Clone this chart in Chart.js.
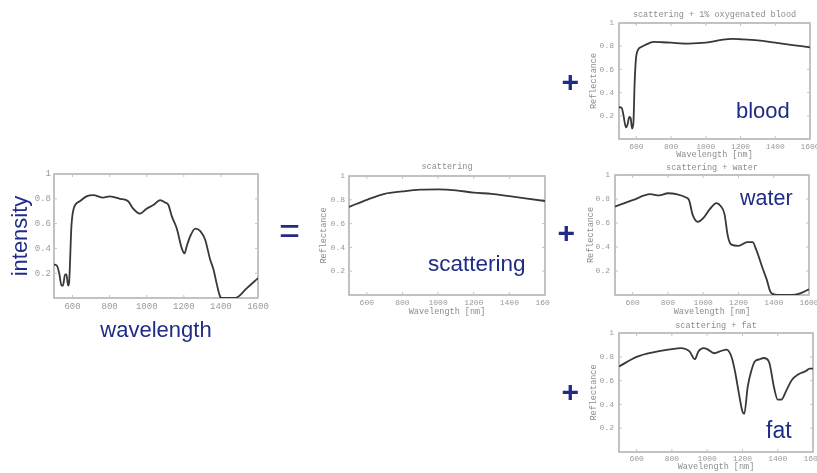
<!DOCTYPE html>
<html>
<head>
<meta charset="utf-8">
<script src="https://cdn.jsdelivr.net/npm/chart.js@4.4.1/dist/chart.umd.min.js"></script>
<style>
body { margin: 0; background: #fff; width: 817px; height: 473px; overflow: hidden; position: relative; font-family: "Liberation Sans", Arial, sans-serif; }
.panel { position: absolute; }
.big { position: absolute; color: #1f2c86; white-space: nowrap; }
</style>
</head>
<body>
<div class="panel" id="p1"><canvas></canvas></div>
<div class="panel" id="p2"><canvas></canvas></div>
<div class="panel" id="p3"><canvas></canvas></div>
<div class="panel" id="p4"><canvas></canvas></div>
<div class="panel" id="p5"><canvas></canvas></div>
<script>
// axis ticks shared by all panels
const xTicks = [600, 800, 1000, 1200, 1400, 1600]
const xTickLabels = ['600', '800', '1000', '1200', '1400', '1600']
const yTicks = [0.2, 0.4, 0.6, 0.8, 1]
const yTickLabels = ['0.2', '0.4', '0.6', '0.8', '1']

// measured spectrum (left)
const intensityNm  = [500, 516, 528, 541, 548, 560, 567, 576, 581, 594, 606, 639, 675, 711, 765, 801, 856, 900, 927, 963, 999, 1036, 1072, 1099, 1117, 1135, 1162, 1189, 1204, 1216, 1238, 1262, 1289, 1315, 1342, 1360, 1378, 1396, 1405, 1477, 1540, 1600]
const intensityVal = [0.27, 0.26, 0.20, 0.10, 0.10, 0.19, 0.19, 0.10, 0.12, 0.58, 0.72, 0.78, 0.82, 0.83, 0.81, 0.82, 0.80, 0.78, 0.72, 0.68, 0.72, 0.75, 0.79, 0.77, 0.75, 0.66, 0.56, 0.40, 0.36, 0.42, 0.51, 0.56, 0.54, 0.47, 0.31, 0.23, 0.11, 0.01, 0, 0, 0.08, 0.16]

// scattering only
const scatterNm  = [500, 600, 700, 800, 900, 1000, 1100, 1200, 1300, 1400, 1500, 1600]
const scatterVal = [0.74, 0.80, 0.85, 0.87, 0.885, 0.888, 0.88, 0.86, 0.85, 0.83, 0.81, 0.79]

// scattering + 1% oxygenated blood
const bloodNm  = [500, 515, 525, 540, 548, 560, 567, 575, 583, 590, 597, 610, 625, 650, 700, 750, 800, 900, 1000, 1100, 1150, 1200, 1300, 1400, 1500, 1600]
const bloodVal = [0.274, 0.27, 0.21, 0.10, 0.12, 0.19, 0.18, 0.09, 0.14, 0.48, 0.68, 0.77, 0.79, 0.81, 0.837, 0.834, 0.83, 0.823, 0.83, 0.857, 0.863, 0.86, 0.85, 0.83, 0.81, 0.79]

// scattering + water
const waterNm  = [500, 600, 700, 750, 800, 850, 900, 920, 940, 970, 1000, 1040, 1075, 1100, 1120, 1140, 1160, 1200, 1250, 1280, 1300, 1340, 1360, 1380, 1400, 1450, 1500, 1550, 1600]
const waterVal = [0.737, 0.79, 0.84, 0.83, 0.848, 0.84, 0.815, 0.79, 0.67, 0.61, 0.64, 0.72, 0.765, 0.74, 0.68, 0.49, 0.42, 0.41, 0.44, 0.44, 0.38, 0.21, 0.13, 0.03, 0.005, 0, 0, 0.014, 0.047]

// scattering + fat
const fatNm  = [500, 600, 700, 800, 850, 900, 930, 950, 980, 1000, 1040, 1080, 1110, 1140, 1160, 1180, 1200, 1210, 1230, 1250, 1270, 1300, 1320, 1350, 1380, 1400, 1420, 1450, 1480, 1520, 1560, 1580, 1600]
const fatVal = [0.718, 0.80, 0.84, 0.865, 0.873, 0.845, 0.78, 0.845, 0.873, 0.865, 0.83, 0.85, 0.86, 0.79, 0.66, 0.49, 0.34, 0.32, 0.55, 0.68, 0.76, 0.78, 0.79, 0.76, 0.535, 0.44, 0.44, 0.52, 0.605, 0.655, 0.68, 0.70, 0.70]

const mono = '"Liberation Mono", "DejaVu Sans Mono", monospace'
const sans = '"Liberation Sans", Arial, sans-serif'
const navy = '#1f2c86'
const gray = '#9a9a9a'

const framePlugin = {
    id: 'frame',
    beforeDatasetsDraw(chart) {
        const { ctx, chartArea: a, scales } = chart
        ctx.save()
        ctx.strokeStyle = '#a8a8a8'
        ctx.lineWidth = 1.4
        ctx.strokeRect(a.left, a.top, a.right - a.left, a.bottom - a.top)
        ctx.lineWidth = 1
        ctx.strokeStyle = '#c4c4c4'
        ctx.beginPath()
        xTicks.forEach(v => {
            const px = scales.x.getPixelForValue(v)
            ctx.moveTo(px, a.bottom); ctx.lineTo(px, a.bottom - 3)
            ctx.moveTo(px, a.top); ctx.lineTo(px, a.top + 3)
        })
        yTicks.forEach(v => {
            const py = scales.y.getPixelForValue(v)
            ctx.moveTo(a.left, py); ctx.lineTo(a.left + 3, py)
            ctx.moveTo(a.right, py); ctx.lineTo(a.right - 3, py)
        })
        ctx.stroke()
        ctx.restore()
    }
}

// box = canvas [left, top, width, height], plot = [left, top, right, bottom]
function makeChart(id, box, plot, nm, val, o) {
    const wrap = document.getElementById(id)
    wrap.style.left = box[0] + 'px'
    wrap.style.top = box[1] + 'px'
    const canvas = wrap.querySelector('canvas')
    canvas.width = box[2]
    canvas.height = box[3]
    const yW = plot[0] - box[0]
    const xH = box[1] + box[3] - plot[3]
    let padTop = plot[1] - box[1]
    let title = { display: false }
    if (o.title) {
        const pt = o.titleY - box[1] - o.tfs / 2
        title = {
            display: true, text: o.title, fullSize: false, color: '#8c8c8c',
            font: { family: mono, size: o.tfs, lineHeight: 1, weight: 'normal' },
            padding: { top: pt, bottom: padTop - o.tfs - pt }
        }
        padTop = 0
    }
    new Chart(canvas, {
        type: 'line',
        data: {
            datasets: [{
                data: nm.map((x, i) => ({ x: x, y: val[i] })),
                borderColor: '#383838',
                borderWidth: 1.8,
                pointRadius: 0,
                cubicInterpolationMode: 'monotone',
                fill: false
            }]
        },
        options: {
            responsive: false,
            animation: false,
            layout: { padding: { left: 0, top: padTop, right: box[0] + box[2] - plot[2], bottom: 0 } },
            plugins: { legend: { display: false }, tooltip: { enabled: false }, title: title },
            scales: {
                x: {
                    type: 'linear', min: 500, max: 1600,
                    afterBuildTicks: s => { s.ticks = xTicks.map(v => ({ value: v })) },
                    afterFit: s => { s.height = xH; s.paddingLeft = 0; s.paddingRight = 0 },
                    grid: { display: false, drawTicks: false },
                    border: { display: false },
                    ticks: {
                        color: gray, font: { family: mono, size: o.fs }, padding: o.xPad,
                        maxRotation: 0, autoSkip: false, callback: (v, i) => xTickLabels[i]
                    },
                    title: {
                        display: true, text: o.xTitle, color: o.axColor,
                        font: { family: o.axFamily, size: o.axSize, lineHeight: 1 },
                        padding: { top: 0, bottom: box[1] + box[3] - o.xTitleY - o.axSize / 2 }
                    }
                },
                y: {
                    type: 'linear', min: 0, max: 1,
                    afterBuildTicks: s => { s.ticks = yTicks.map(v => ({ value: v })) },
                    afterFit: s => { s.width = yW; s.paddingTop = 0; s.paddingBottom = 0 },
                    grid: { display: false, drawTicks: false },
                    border: { display: false },
                    ticks: {
                        color: gray, font: { family: mono, size: o.fs }, padding: o.yPad,
                        autoSkip: false, callback: (v, i) => yTickLabels[i]
                    },
                    title: {
                        display: true, text: o.yTitle, color: o.axColor,
                        font: { family: o.axFamily, size: o.axSize, lineHeight: 1 },
                        padding: { top: o.yTitleX - box[0] - o.axSize / 2, bottom: 0 }
                    }
                }
            }
        },
        plugins: [framePlugin]
    })
}

const small = { fs: 8, tfs: 8.5, xPad: 3, yPad: 5, axColor: '#8c8c8c', axFamily: mono, axSize: 8.5, xTitle: 'Wavelength [nm]', yTitle: 'Reflectance' }

makeChart('p1', [0, 160, 275, 190], [54, 174, 258, 298], intensityNm, intensityVal,
    { fs: 9, xPad: 3, yPad: 3, axColor: navy, axFamily: sans, axSize: 22, xTitle: 'wavelength', xTitleY: 330.5, yTitle: 'intensity', yTitleX: 21 })
makeChart('p2', [300, 155, 250, 165], [349, 176, 545, 295], scatterNm, scatterVal,
    Object.assign({}, small, { yPad: 4, title: 'scattering', titleY: 167, yTitleX: 324, xTitleY: 312 }))
makeChart('p3', [570, 0, 247, 165], [619, 23, 810, 139], bloodNm, bloodVal,
    Object.assign({}, small, { title: 'scattering + 1% oxygenated blood', titleY: 15, yTitleX: 594, xTitleY: 155 }))
makeChart('p4', [570, 158, 247, 162], [615, 175, 809, 295], waterNm, waterVal,
    Object.assign({}, small, { title: 'scattering + water', titleY: 168, yTitleX: 591, xTitleY: 312 }))
makeChart('p5', [570, 318, 247, 155], [619, 333, 813, 452], fatNm, fatVal,
    Object.assign({}, small, { xPad: 2, title: 'scattering + fat', titleY: 326, yTitleX: 594, xTitleY: 467 }))

// large labels and operators, placed by baseline
function bigText(text, left, baseline, size, weight) {
    const el = document.createElement('div')
    el.className = 'big'
    el.textContent = text
    el.style.fontSize = size + 'px'
    el.style.lineHeight = size + 'px'
    el.style.fontWeight = weight || 'normal'
    el.style.left = left + 'px'
    el.style.top = (baseline - 0.8465 * size) + 'px'
    document.body.appendChild(el)
}
bigText('scattering', 428, 272, 22.5)
bigText('blood', 736, 119, 22)
bigText('water', 740, 206, 21.5)
bigText('fat', 766, 438, 23)
bigText('=', 279, 243, 36)
bigText('+', 561.5, 92, 30, 'bold')
bigText('+', 557.5, 243, 30, 'bold')
bigText('+', 561.5, 402, 30, 'bold')
</script>
</body>
</html>
